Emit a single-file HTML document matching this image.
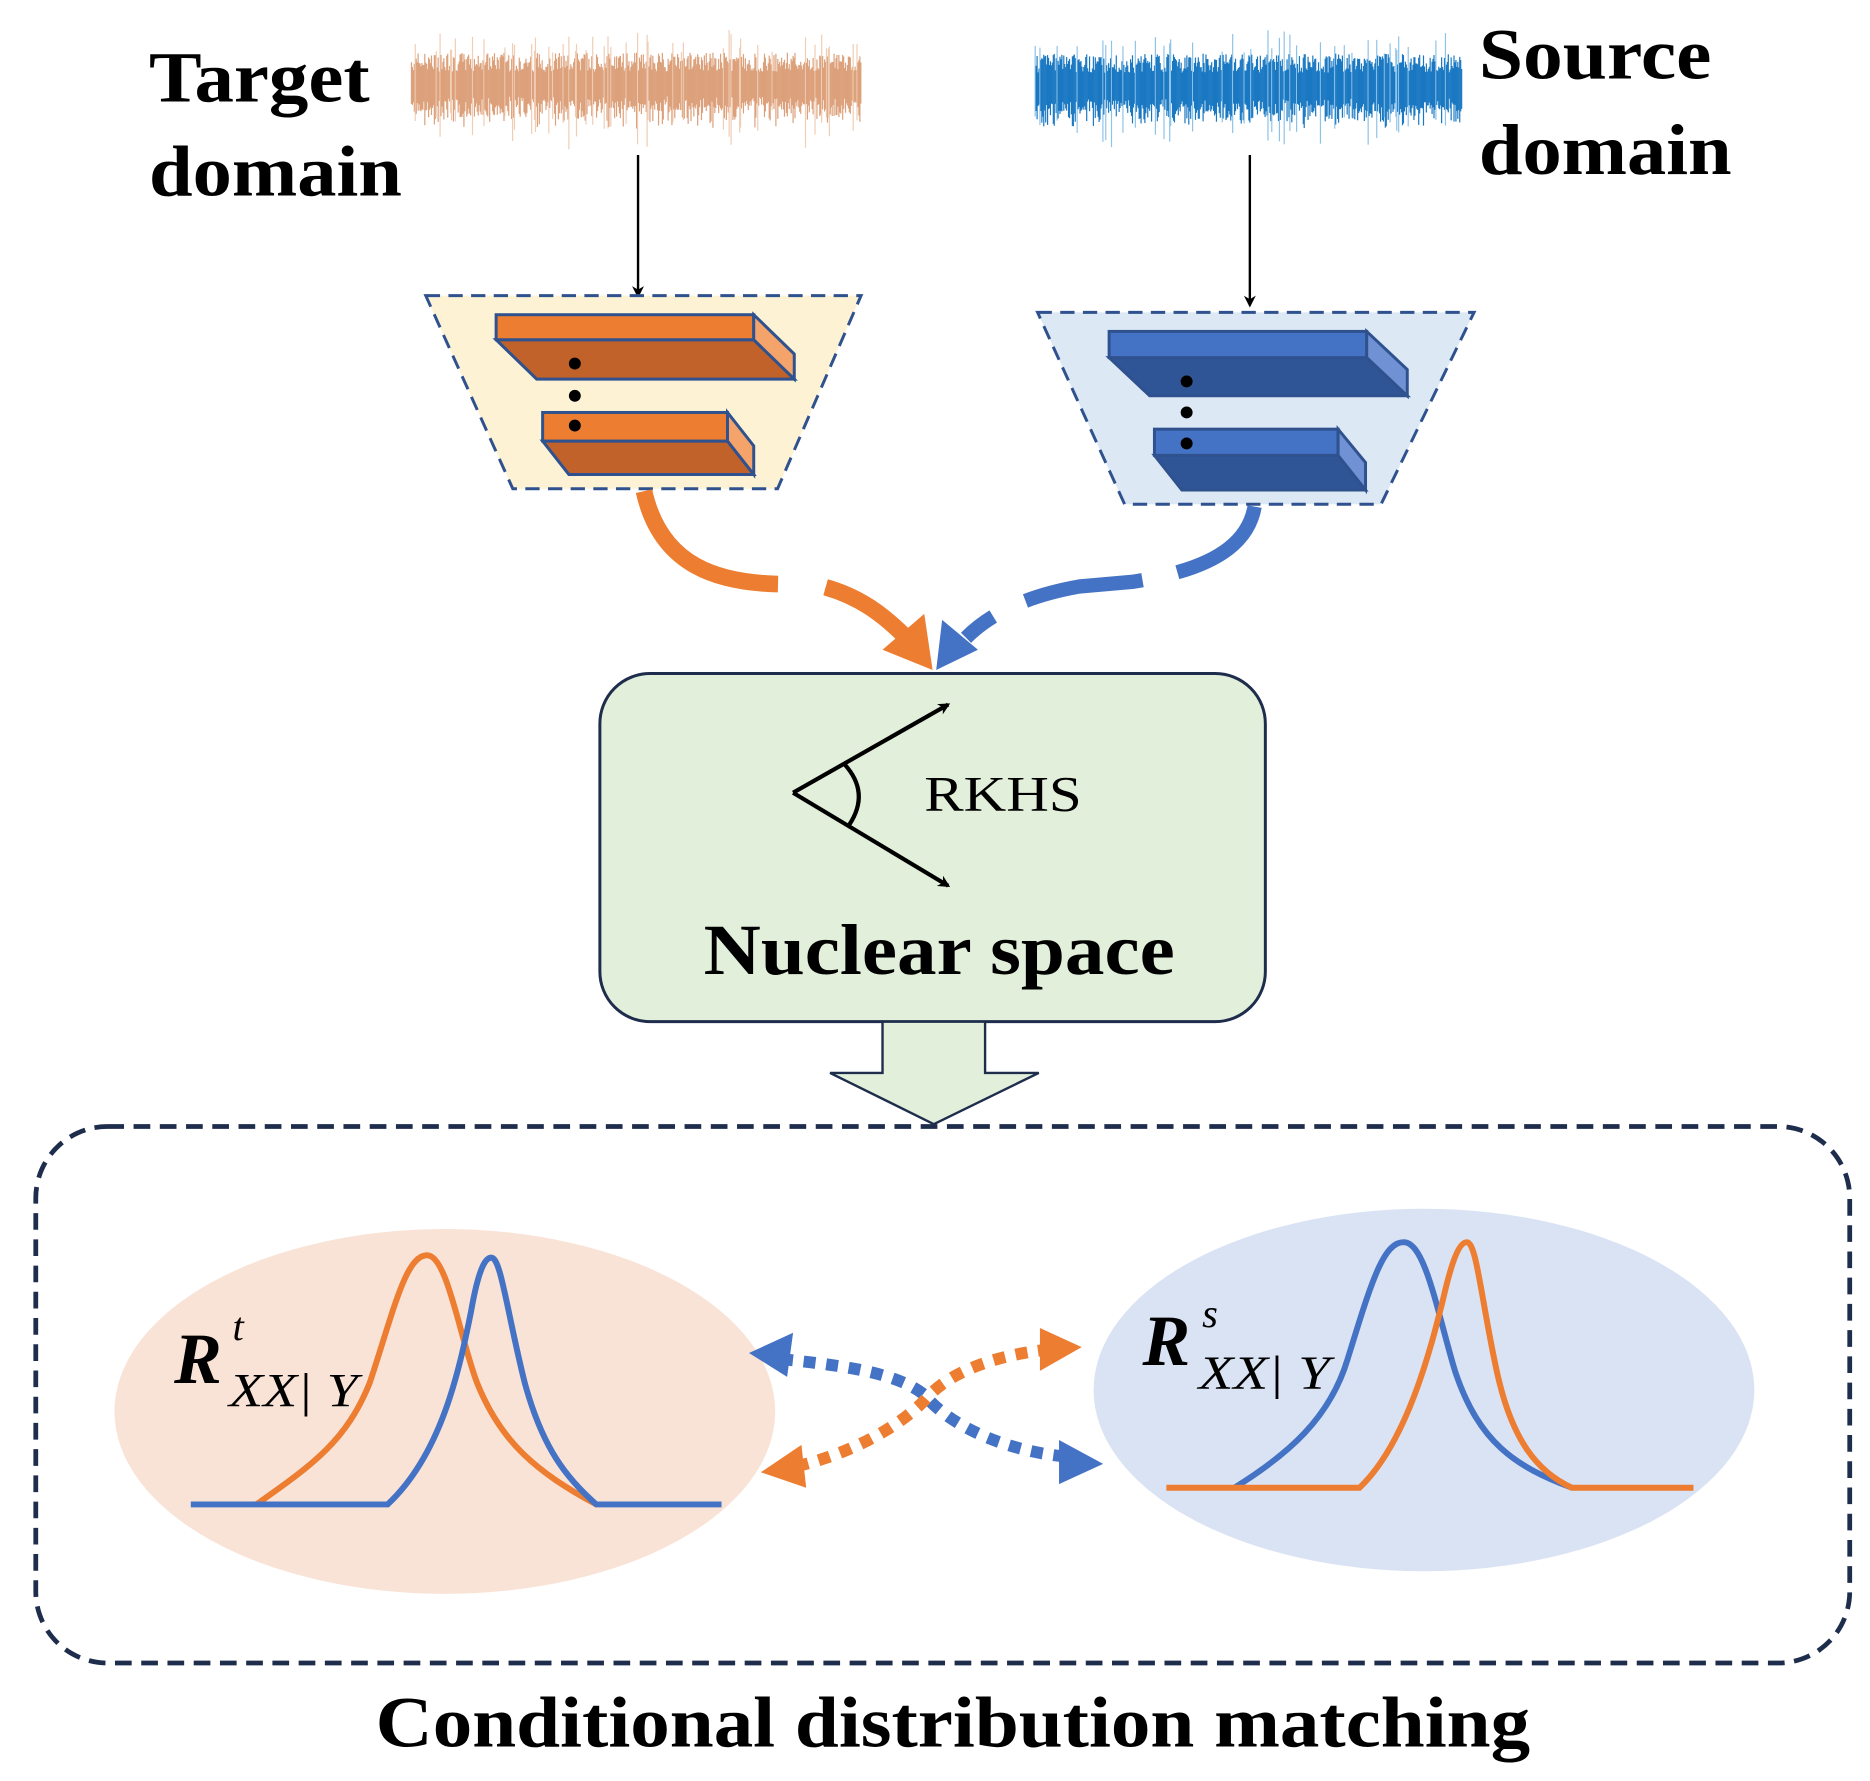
<!DOCTYPE html>
<html><head><meta charset="utf-8"><style>html,body{margin:0;padding:0;background:#fff}svg{display:block}</style></head>
<body>
<svg id="s" width="1870" height="1781" viewBox="0 0 1568 1494" preserveAspectRatio="none" xmlns="http://www.w3.org/2000/svg" font-family="Liberation Serif, serif">
<defs>
<marker id="ab" markerWidth="10" markerHeight="10" refX="8" refY="5" orient="auto" markerUnits="userSpaceOnUse"><path d="M0,0 L10,5 L0,10 L3,5 Z" fill="#000"/></marker>
</defs>
<g id="waves"></g>
<text x="125" y="85" font-size="60" font-weight="bold" textLength="185" lengthAdjust="spacingAndGlyphs">Target</text>
<text x="125" y="164" font-size="60" font-weight="bold" textLength="212" lengthAdjust="spacingAndGlyphs">domain</text>
<text x="1240" y="66" font-size="60" font-weight="bold" textLength="195" lengthAdjust="spacingAndGlyphs">Source</text>
<text x="1240" y="146" font-size="60" font-weight="bold" textLength="212" lengthAdjust="spacingAndGlyphs">domain</text>
<line x1="535" y1="130" x2="535" y2="248" stroke="#000" stroke-width="2" marker-end="url(#ab)"/>
<line x1="1048" y1="130" x2="1048" y2="256" stroke="#000" stroke-width="2" marker-end="url(#ab)"/>
<polygon points="357,248 722,248 652,410 430,410" fill="#fdf2d4" stroke="#2f528f" stroke-width="2.5" stroke-dasharray="12,7"/>
<g stroke="#2f528f" stroke-width="2.5">
<polygon points="416,285 632,285 666,318 450,318" fill="#c0622a"/>
<rect x="416" y="264" width="216" height="21" fill="#ed7d31"/>
<polygon points="632,264 666,297 666,318 632,285" fill="#f4a46a"/>
<polygon points="455,370 610,370 632,398 477,398" fill="#c0622a"/>
<rect x="455" y="346" width="155" height="24" fill="#ed7d31"/>
<polygon points="610,346 632,374 632,398 610,370" fill="#f4a46a"/>
</g>
<circle cx="482" cy="305" r="5"/><circle cx="482" cy="332" r="5"/><circle cx="482" cy="357" r="5"/>
<polygon points="870,262 1236,262 1158,423 943,423" fill="#dde8f5" stroke="#2f528f" stroke-width="2.5" stroke-dasharray="12,7"/>
<g stroke="#2f528f" stroke-width="2.5">
<polygon points="930,300 1146,300 1180,332 964,332" fill="#2f5597"/>
<rect x="930" y="278" width="216" height="22" fill="#4472c4"/>
<polygon points="1146,278 1180,310 1180,332 1146,300" fill="#7092d4"/>
<polygon points="968,382 1122,382 1145,411 991,411" fill="#2f5597"/>
<rect x="968" y="360" width="154" height="22" fill="#4472c4"/>
<polygon points="1122,360 1145,388 1145,411 1122,382" fill="#7092d4"/>
</g>
<circle cx="995" cy="320" r="5"/><circle cx="995" cy="346" r="5"/><circle cx="995" cy="372" r="5"/>
<path d="M540,412 C555,480 610,490 660,490 L690,492 C720,500 740,515 760,535" fill="none" stroke="#ed7d31" stroke-width="14" stroke-dasharray="150,40,80,0"/>
<polygon points="740,545 782,562 775,515" fill="#ed7d31"/>
<path d="M1052,425 C1045,465 1000,480 950,488 L905,492 C860,500 830,515 810,535" fill="none" stroke="#4472c4" stroke-width="12" stroke-dasharray="90,30,100,30,60"/>
<polygon points="790,520 785,562 820,545" fill="#4472c4"/>
<rect x="503" y="565" width="558" height="292" rx="42" fill="#e2efda" stroke="#1f2d4d" stroke-width="2.5"/>
<line x1="665" y1="665" x2="795" y2="591" stroke="#000" stroke-width="3.5" marker-end="url(#ab)"/>
<line x1="665" y1="665" x2="795" y2="743" stroke="#000" stroke-width="3.5" marker-end="url(#ab)"/>
<path d="M708,641 Q730,665 712,692" fill="none" stroke="#000" stroke-width="3.5"/>
<text x="775" y="680" font-size="42" textLength="132" lengthAdjust="spacingAndGlyphs">RKHS</text>
<text x="590" y="817" font-size="60" font-weight="bold" textLength="395" lengthAdjust="spacingAndGlyphs">Nuclear space</text>
<polygon points="740,857 826,857 826,900 871,900 783,943 696,900 740,900" fill="#e2efda" stroke="#1f2d4d" stroke-width="2"/>
<rect x="30" y="945" width="1521" height="450" rx="60" fill="none" stroke="#1f2d4d" stroke-width="4" stroke-dasharray="14,8"/>
<ellipse cx="373" cy="1184" rx="277" ry="153" fill="#f9e3d6"/>
<ellipse cx="1194" cy="1166" rx="277" ry="152" fill="#dae3f3"/>
<path d="M215,1262 C260,1230 290,1210 310,1160 C330,1100 340,1053 358,1053 C375,1053 385,1120 400,1160 C420,1210 450,1235 500,1262" fill="none" stroke="#ed7d31" stroke-width="5"/>
<path d="M160,1262 L325,1262 C370,1220 385,1150 395,1100 C402,1060 408,1055 412,1055 C420,1055 425,1100 440,1160 C455,1215 475,1240 500,1262 L605,1262" fill="none" stroke="#4472c4" stroke-width="5"/>
<path d="M1035,1248 C1080,1220 1115,1190 1130,1140 C1150,1075 1160,1042 1177,1042 C1195,1042 1205,1100 1220,1150 C1240,1210 1270,1230 1318,1248" fill="none" stroke="#4472c4" stroke-width="5"/>
<path d="M978,1248 L1140,1248 C1180,1210 1200,1130 1210,1090 C1218,1055 1224,1042 1230,1042 C1238,1042 1242,1090 1255,1150 C1268,1210 1290,1235 1318,1248 L1420,1248" fill="none" stroke="#ed7d31" stroke-width="5"/>
<text x="146" y="1160" font-size="60" font-weight="bold" font-style="italic">R</text>
<text x="195" y="1124" font-size="34" font-style="italic">t</text>
<text x="192" y="1180" font-size="40" font-style="italic" textLength="108" lengthAdjust="spacingAndGlyphs">XX|  Y</text>
<text x="958" y="1145" font-size="60" font-weight="bold" font-style="italic">R</text>
<text x="1008" y="1113" font-size="34" font-style="italic">s</text>
<text x="1005" y="1165" font-size="40" font-style="italic" textLength="110" lengthAdjust="spacingAndGlyphs">XX|  Y</text>
<path d="M655,1140 C700,1145 750,1150 775,1170 C800,1200 850,1218 895,1222" fill="none" stroke="#4472c4" stroke-width="10" stroke-dasharray="10,9"/>
<polygon points="628,1135 665,1118 660,1155" fill="#4472c4"/>
<polygon points="925,1228 888,1208 888,1245" fill="#4472c4"/>
<path d="M668,1230 C710,1220 750,1200 775,1175 C800,1145 850,1135 880,1132" fill="none" stroke="#ed7d31" stroke-width="10" stroke-dasharray="10,9"/>
<polygon points="638,1235 672,1212 676,1248" fill="#ed7d31"/>
<polygon points="907,1130 872,1114 872,1150" fill="#ed7d31"/>
<text x="315" y="1465" font-size="60" font-weight="bold" textLength="968" lengthAdjust="spacingAndGlyphs">Conditional distribution matching</text>
</svg>
<script>
(function(){
var g=document.getElementById('waves'),ns='http://www.w3.org/2000/svg';
var seed=7;function r(){seed=(seed*9301+49297)%233280;return seed/233280;}
function wave(x0,x1,cy,col,lc){
 for(var x=x0;x<=x1;x+=0.8){
  var a=12+r()*16; if(r()<0.12)a+=r()*25;
  var l=document.createElementNS(ns,'line');
  l.setAttribute('x1',x);l.setAttribute('x2',x);
  l.setAttribute('y1',cy-a);l.setAttribute('y2',cy+a*(0.7+r()*0.6));
  l.setAttribute('stroke',a>28?lc:col);l.setAttribute('stroke-width','1');
  g.appendChild(l);
 }
}
wave(345,722,72,'#dca07a','#f0cdb5');
wave(868,1226,73,'#1a78c2','#8ec3e8');
})();
</script>
</body></html>
